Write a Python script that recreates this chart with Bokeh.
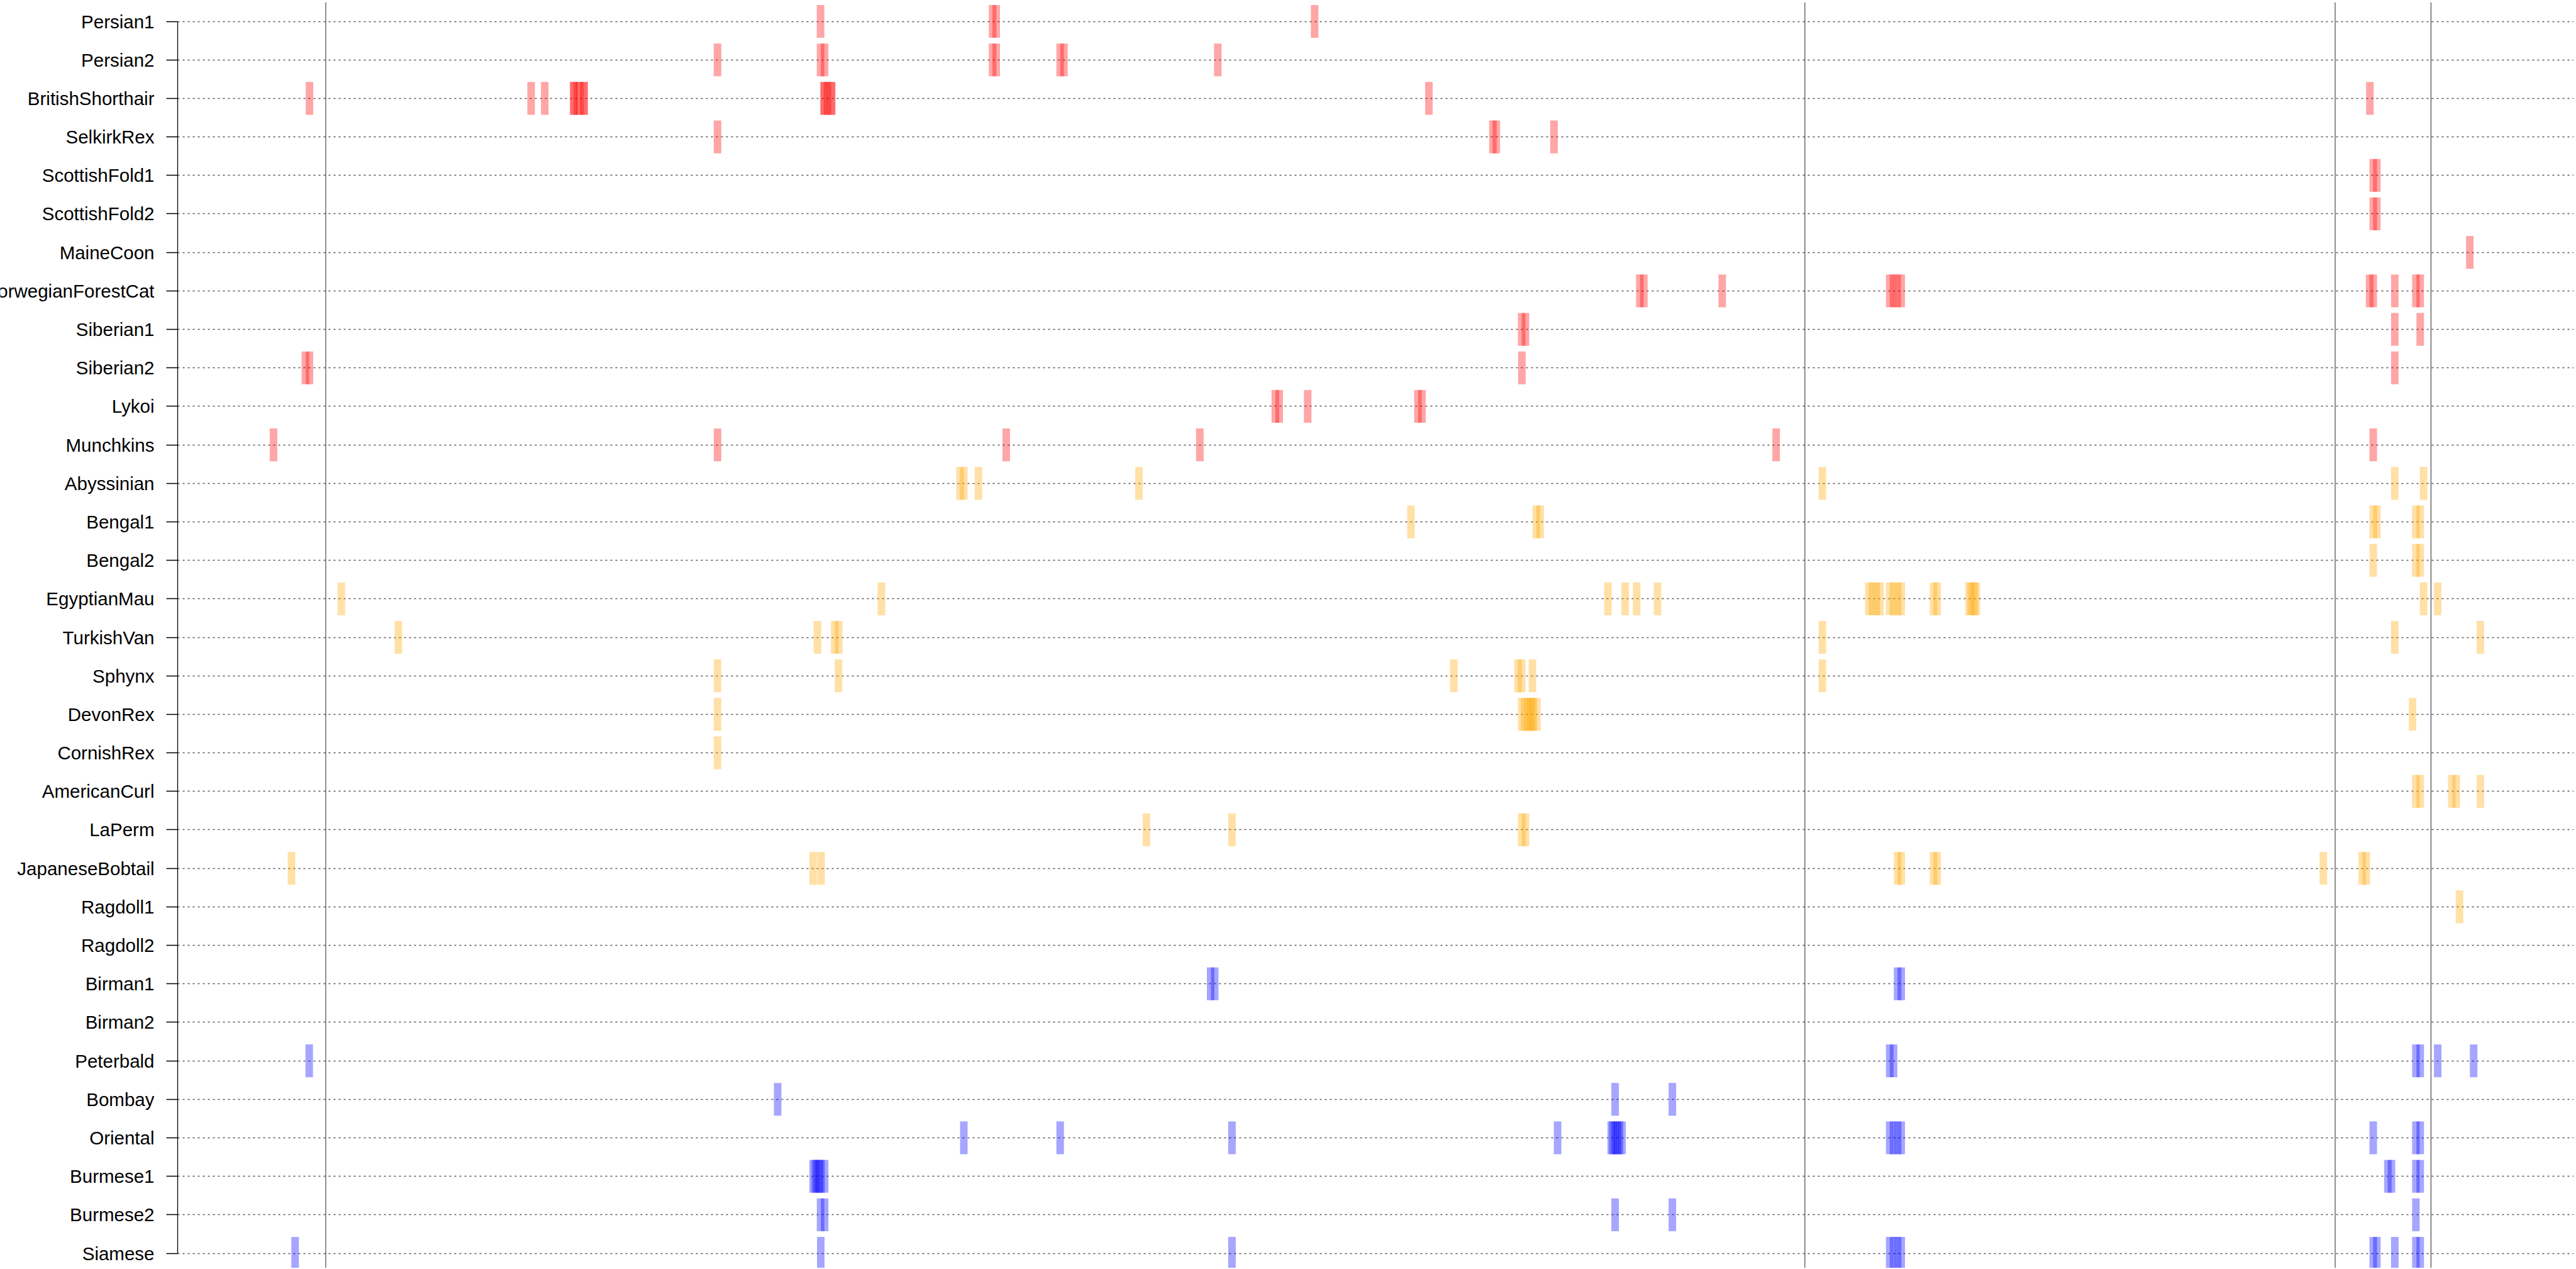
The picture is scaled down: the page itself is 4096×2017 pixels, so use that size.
from bokeh.plotting import figure
from bokeh.models import ColumnDataSource, Span, FixedTicker, Range1d, CustomJSTickFormatter
from bokeh.layouts import row
from bokeh.core.properties import value
from bokeh.embed import file_html
from bokeh.resources import INLINE

# ---------------- data ----------------
breeds = ["Persian1", "Persian2", "BritishShorthair", "SelkirkRex", "ScottishFold1",
          "ScottishFold2", "MaineCoon", "NorwegianForestCat", "Siberian1", "Siberian2",
          "Lykoi", "Munchkins", "Abyssinian", "Bengal1", "Bengal2", "EgyptianMau",
          "TurkishVan", "Sphynx", "DevonRex", "CornishRex", "AmericanCurl", "LaPerm",
          "JapaneseBobtail", "Ragdoll1", "Ragdoll2", "Birman1", "Birman2", "Peterbald",
          "Bombay", "Oriental", "Burmese1", "Burmese2", "Siamese"]
groups = ["red"] * 12 + ["orange"] * 12 + ["blue"] * 9
group_colors = {"red": "#FF0000", "orange": "#FFA500", "blue": "#0000FF"}

# positions (0-1000 scale along the track)
persian1 = [268.3, 340.1, 341.6, 474.5]
persian2 = [225.3, 268.3, 270.0, 340.1, 341.6, 368.3, 369.9, 434.1]
british_shorthair = [55.0, 147.5, 153.2, 165.3, 165.3, 166.7, 167.9, 169.6, 169.6,
                     269.8, 269.8, 271.2, 272.9, 272.9, 522.2, 914.9]
selkirk_rex = [225.3, 548.9, 550.3, 574.4]
scottish_fold1 = [916.3, 917.8]
scottish_fold2 = [916.3, 917.8]
maine_coon = [956.6]
norwegian_forest_cat = [610.2, 611.9, 644.6, 714.5, 716.1, 717.6, 719.3, 914.8, 916.3,
                        925.3, 934.1, 935.9]
siberian1 = [560.9, 562.5, 925.3, 935.9]
siberian2 = [53.3, 55.0, 561.0, 925.3]
lykoi = [458.1, 459.7, 471.6, 517.6, 519.3]
munchkins = [40.0, 225.3, 345.8, 426.6, 667.1, 916.3]
abyssinian = [326.5, 328.1, 334.2, 401.2, 686.4, 925.3, 937.3]
bengal1 = [514.7, 567.0, 568.6, 916.3, 917.8, 934.1, 935.9]
bengal2 = [916.3, 934.1, 935.9]
egyptian_mau = [68.3, 293.7, 596.9, 604.1, 608.9, 617.6, 705.8, 707.3, 708.9, 710.4,
                714.5, 716.1, 717.8, 719.3, 732.8, 734.3, 747.6, 748.5, 749.8, 750.6,
                937.3, 943.2]
turkish_van = [92.1, 267.0, 274.2, 275.9, 686.4, 925.3, 961.0]
sphynx = [225.3, 275.8, 532.6, 559.4, 560.9, 565.4, 686.4]
devon_rex = [225.3, 560.9, 562.1, 563.5, 564.3, 565.0, 565.8, 567.3, 932.7]
cornish_rex = [225.3]
american_curl = [934.1, 935.9, 949.1, 950.9, 961.0]
la_perm = [404.3, 440.0, 560.9, 562.5]
japanese_bobtail = [47.5, 265.2, 268.5, 717.8, 719.3, 732.8, 734.3, 895.5, 911.7, 913.4]
ragdoll1 = [952.3]
ragdoll2 = []
birman1 = [431.1, 432.8, 717.8, 719.3]
birman2 = []
peterbald = [54.9, 714.5, 716.1, 934.1, 935.9, 943.2, 958.2]
bombay = [250.4, 599.9, 623.8]
oriental = [328.1, 368.3, 440.0, 575.9, 598.3, 599.0, 600.0, 600.9, 601.7, 602.8,
            714.5, 716.1, 717.8, 719.3, 916.3, 934.1, 935.9]
burmese1 = [265.2, 266.1, 266.9, 267.8, 268.5, 270.0, 922.4, 923.9, 934.1, 935.9]
burmese2 = [268.3, 270.0, 599.9, 623.8, 934.1]
siamese = [49.0, 268.4, 440.0, 714.5, 716.1, 717.8, 719.3, 916.3, 917.8, 925.3,
           934.1, 935.9]

breed_positions = [persian1, persian2, british_shorthair, selkirk_rex, scottish_fold1,
                   scottish_fold2, maine_coon, norwegian_forest_cat, siberian1, siberian2,
                   lykoi, munchkins, abyssinian, bengal1, bengal2, egyptian_mau,
                   turkish_van, sphynx, devon_rex, cornish_rex, american_curl, la_perm,
                   japanese_bobtail, ragdoll1, ragdoll2, birman1, birman2, peterbald,
                   bombay, oriental, burmese1, burmese2, siamese]

boundaries = [61.8, 679.1, 900.4, 940.4]

# ---------------- sources ----------------
xs, ys, cols = [], [], []
for i, (pos, g) in enumerate(zip(breed_positions, groups)):
    for v in pos:
        xs.append(v)
        ys.append(i)
        cols.append(group_colors[g])
bars = ColumnDataSource(dict(x=xs, y=ys, color=cols))

n = len(breeds)
TOTAL_W, TOTAL_H = 4092, 2015
LABEL_W = 245          # width of the label strip (labels right-aligned at its edge)
TOP = 3

y_range = Range1d(32.383, -0.4985)

# ---------------- label strip ----------------
lp = figure(width=LABEL_W, height=TOTAL_H, output_backend="svg", toolbar_location=None,
            x_range=Range1d(0, LABEL_W), y_range=y_range,
            x_axis_location=None, y_axis_location=None,
            min_border_left=0, min_border_right=0, min_border_top=TOP, min_border_bottom=0)
lp.outline_line_color = None
lp.grid.visible = False
label_src = ColumnDataSource(dict(x=[LABEL_W] * n, y=list(range(n)), name=breeds))
lp.text(x="x", y="y", text="name", source=label_src, text_align="right",
        text_baseline="middle", text_font=value("Liberation Sans"),
        text_font_size="29.5px", text_color="black")

# ---------------- main track plot ----------------
p = figure(width=TOTAL_W - LABEL_W, height=TOTAL_H, output_backend="svg",
           toolbar_location=None, x_range=Range1d(0, 1000), y_range=y_range,
           x_axis_location=None, min_border_left=37, min_border_right=0,
           min_border_top=TOP, min_border_bottom=0)
p.outline_line_color = None

ax = p.yaxis[0]
ax.ticker = FixedTicker(ticks=list(range(n)))
ax.bounds = (0, n - 1)
ax.formatter = CustomJSTickFormatter(code="return ''")
ax.major_label_standoff = 0
ax.major_tick_in = 0
ax.major_tick_out = 18
ax.minor_tick_line_color = None
ax.axis_line_color = "black"
ax.axis_line_width = 1.3
ax.major_tick_line_color = "black"
ax.major_tick_line_width = 1.3

for g in p.xgrid:
    g.visible = False
p.ygrid.grid_line_color = "#555555"
p.ygrid.grid_line_width = 1.3
p.ygrid.grid_line_dash = "3 5"

for b in boundaries:
    p.add_layout(Span(location=b, dimension="height", line_color="#222222",
                      line_width=1.1, line_alpha=0.9))

p.rect(x="x", y="y", width=3.15, height=0.852, source=bars,
       fill_color="color", fill_alpha=0.35, line_color=None)

layout = row(lp, p)
open("out.html", "w").write(file_html(layout, INLINE))
